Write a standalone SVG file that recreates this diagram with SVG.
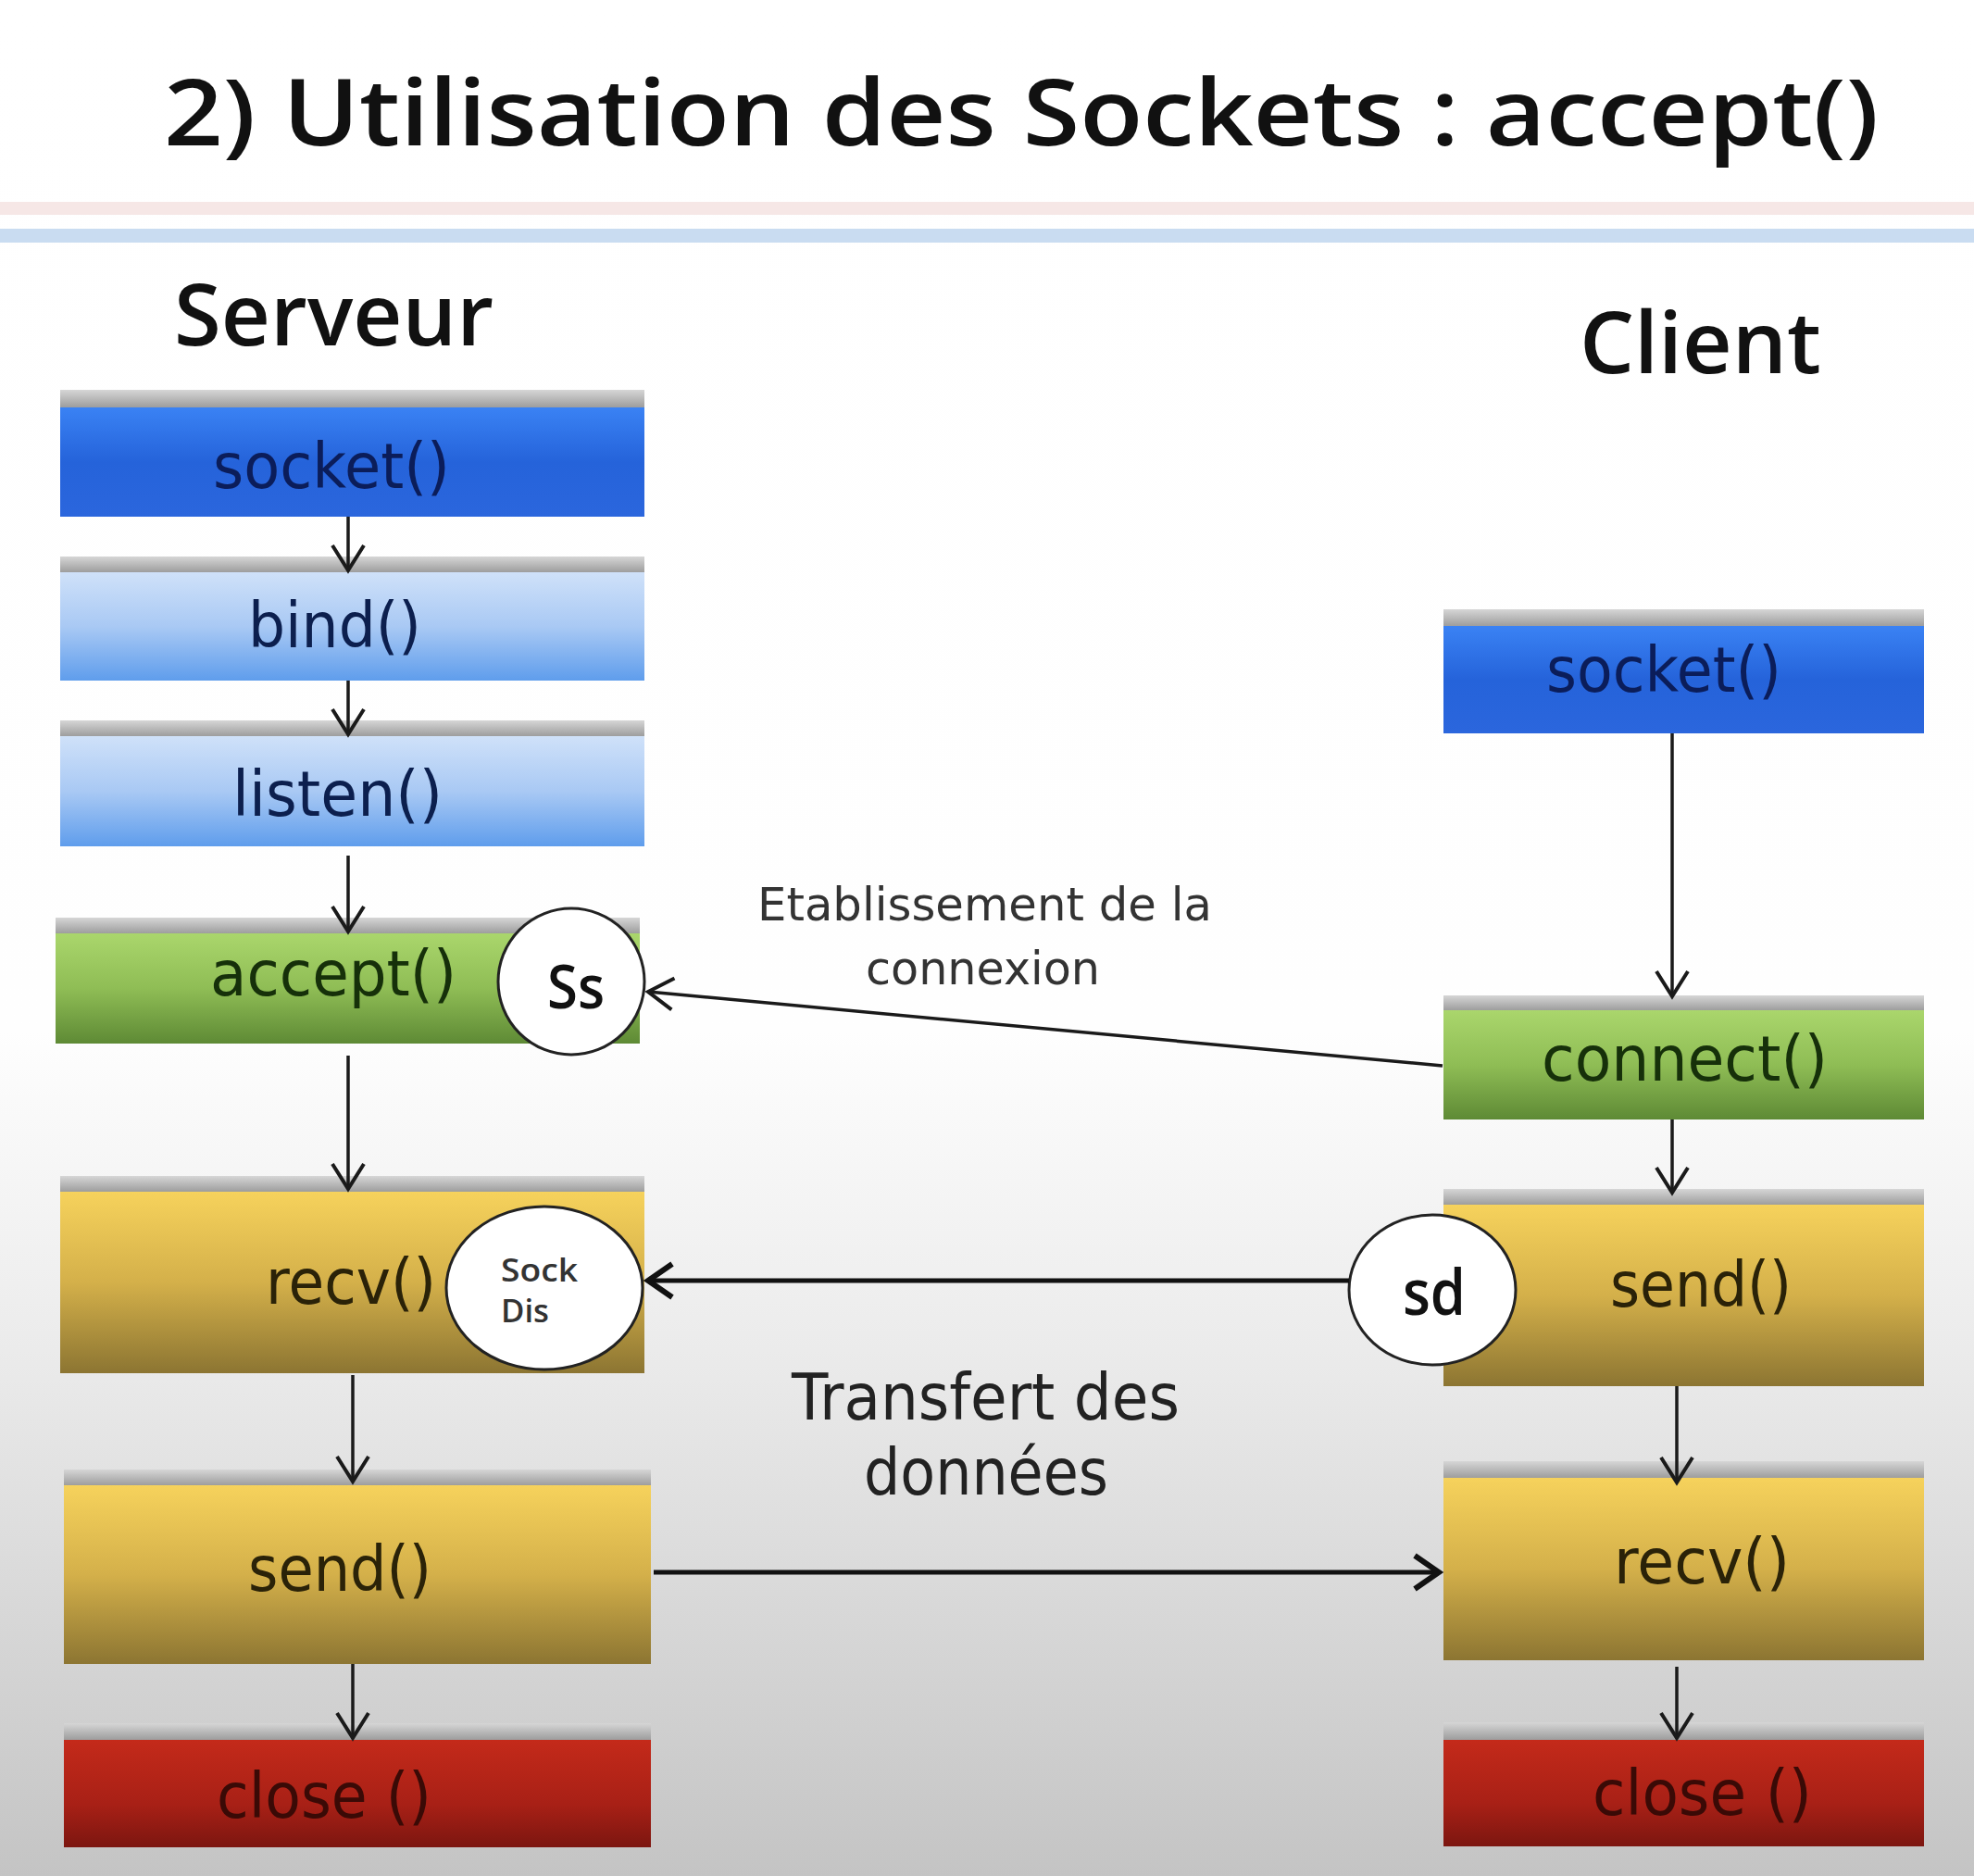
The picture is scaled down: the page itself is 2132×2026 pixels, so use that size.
<svg xmlns="http://www.w3.org/2000/svg" width="2132" height="2026" viewBox="0 0 2132 2026">
<defs>
<linearGradient id="bg" x1="0" y1="0" x2="0" y2="1">
<stop offset="0" stop-color="#ffffff"/>
<stop offset="0.55" stop-color="#fefefe"/>
<stop offset="0.72" stop-color="#ebebeb"/>
<stop offset="1" stop-color="#c4c4c4"/>
</linearGradient>
<linearGradient id="band" x1="0" y1="0" x2="0" y2="1">
<stop offset="0" stop-color="#d6d6d6"/>
<stop offset="1" stop-color="#9a9a9a"/>
</linearGradient>
<linearGradient id="gBlue" x1="0" y1="0" x2="0" y2="1">
<stop offset="0" stop-color="#3a82f4"/>
<stop offset="0.5" stop-color="#2563da"/>
<stop offset="1" stop-color="#2b66dd"/>
</linearGradient>
<linearGradient id="gLight" x1="0" y1="0" x2="0" y2="1">
<stop offset="0" stop-color="#cfe1f9"/>
<stop offset="0.5" stop-color="#a9c9f4"/>
<stop offset="1" stop-color="#5f9dec"/>
</linearGradient>
<linearGradient id="gGreen" x1="0" y1="0" x2="0" y2="1">
<stop offset="0" stop-color="#aad66c"/>
<stop offset="0.5" stop-color="#8fbd55"/>
<stop offset="1" stop-color="#5e8a35"/>
</linearGradient>
<linearGradient id="gGold" x1="0" y1="0" x2="0" y2="1">
<stop offset="0" stop-color="#f6d25c"/>
<stop offset="0.5" stop-color="#d4b04a"/>
<stop offset="1" stop-color="#8c7532"/>
</linearGradient>
<linearGradient id="gRed" x1="0" y1="0" x2="0" y2="1">
<stop offset="0" stop-color="#c42a1a"/>
<stop offset="0.6" stop-color="#a82016"/>
<stop offset="1" stop-color="#7c1610"/>
</linearGradient>
<marker id="arr" markerUnits="userSpaceOnUse" orient="auto" overflow="visible" markerWidth="1" markerHeight="1" refX="0" refY="0">
<path d="M-27,-17 L0,0 L-27,17" fill="none" stroke="#1a1a1a" stroke-width="4"/>
</marker>
<marker id="arrB" markerUnits="userSpaceOnUse" orient="auto" overflow="visible" markerWidth="1" markerHeight="1" refX="0" refY="0">
<path d="M-26,-18 L0,0 L-26,18" fill="none" stroke="#111" stroke-width="6"/>
</marker>
</defs>
<style>
.t{font-family:"DejaVu Sans","Liberation Sans",sans-serif}
.h{font-family:"Open Sans","DejaVu Sans",sans-serif;font-weight:600}
.box{font-family:"DejaVu Sans","Liberation Sans",sans-serif;font-size:68px}
.c{fill:#ffffff;stroke:#222;stroke-width:3}
.ln{fill:none;stroke:#1a1a1a;stroke-width:3.5}
.lnB{fill:none;stroke:#111;stroke-width:5}
</style>
<rect width="2132" height="2026" fill="url(#bg)"/>
<rect x="0" y="218" width="2132" height="14" fill="#f6e7e6"/>
<rect x="0" y="247" width="2132" height="15" fill="#c9dcf1"/>

<g id="title">
<text class="h" x="177" y="157" font-size="100" fill="#111" textLength="1852" lengthAdjust="spacingAndGlyphs">2) Utilisation des Sockets : accept()</text>
</g>
<g id="serveur-label"><text class="h" x="188" y="373" font-size="92" fill="#111" textLength="345" lengthAdjust="spacingAndGlyphs">Serveur</text></g>
<g id="client-label"><text class="h" x="1706" y="403" font-size="92" fill="#111" textLength="261" lengthAdjust="spacingAndGlyphs">Client</text></g>

<g id="srv-socket">
<rect x="65" y="421" width="631" height="20" fill="url(#band)"/>
<rect x="65" y="440" width="631" height="118" fill="url(#gBlue)"/>
<text class="box" x="230" y="527" fill="#0b1d5a" textLength="256" lengthAdjust="spacingAndGlyphs">socket()</text>
</g>
<g id="srv-bind">
<rect x="65" y="601" width="631" height="18" fill="url(#band)"/>
<rect x="65" y="618" width="631" height="117" fill="url(#gLight)"/>
<text class="box" x="268" y="699" fill="#0c1f4e" textLength="187" lengthAdjust="spacingAndGlyphs">bind()</text>
</g>
<g id="srv-listen">
<rect x="65" y="778" width="631" height="18" fill="url(#band)"/>
<rect x="65" y="795" width="631" height="119" fill="url(#gLight)"/>
<text class="box" x="251" y="881" fill="#0c1f4e" textLength="227" lengthAdjust="spacingAndGlyphs">listen()</text>
</g>
<g id="srv-accept">
<rect x="60" y="991" width="631" height="18" fill="url(#band)"/>
<rect x="60" y="1008" width="631" height="119" fill="url(#gGreen)"/>
<text class="box" x="227" y="1075" fill="#16300a" textLength="266" lengthAdjust="spacingAndGlyphs">accept()</text>
</g>
<g id="srv-ss">
<circle class="c" cx="617" cy="1060" r="79"/>
<text class="h" x="591" y="1089" font-size="66" fill="#111" textLength="62" lengthAdjust="spacingAndGlyphs">Ss</text>
</g>
<g id="srv-recv">
<rect x="65" y="1270" width="631" height="18" fill="url(#band)"/>
<rect x="65" y="1287" width="631" height="196" fill="url(#gGold)"/>
<text class="box" x="287" y="1408" fill="#2a2208" textLength="184" lengthAdjust="spacingAndGlyphs">recv()</text>
</g>
<g id="srv-sockdis">
<ellipse class="c" cx="588" cy="1391" rx="106" ry="88"/>
<text class="h" x="541" y="1384" font-size="34" fill="#333" textLength="83" lengthAdjust="spacingAndGlyphs">Sock</text>
<text class="h" x="541" y="1428" font-size="34" fill="#333" textLength="52" lengthAdjust="spacingAndGlyphs">Dis</text>
</g>
<g id="srv-send">
<rect x="69" y="1587" width="634" height="18" fill="url(#band)"/>
<rect x="69" y="1604" width="634" height="193" fill="url(#gGold)"/>
<text class="box" x="268" y="1718" fill="#2a2208" textLength="198" lengthAdjust="spacingAndGlyphs">send()</text>
</g>
<g id="srv-close">
<rect x="69" y="1861" width="634" height="19" fill="url(#band)"/>
<rect x="69" y="1879" width="634" height="116" fill="url(#gRed)"/>
<text class="box" x="234" y="1963" fill="#3a0a06" textLength="232" lengthAdjust="spacingAndGlyphs">close ()</text>
</g>

<g id="cli-socket">
<rect x="1559" y="658" width="519" height="19" fill="url(#band)"/>
<rect x="1559" y="676" width="519" height="116" fill="url(#gBlue)"/>
<text class="box" x="1670" y="747" fill="#0b1d5a" textLength="254" lengthAdjust="spacingAndGlyphs">socket()</text>
</g>
<g id="cli-connect">
<rect x="1559" y="1075" width="519" height="17" fill="url(#band)"/>
<rect x="1559" y="1091" width="519" height="118" fill="url(#gGreen)"/>
<text class="box" x="1665" y="1167" fill="#16300a" textLength="309" lengthAdjust="spacingAndGlyphs">connect()</text>
</g>
<g id="cli-send">
<rect x="1559" y="1284" width="519" height="18" fill="url(#band)"/>
<rect x="1559" y="1301" width="519" height="196" fill="url(#gGold)"/>
<text class="box" x="1739" y="1411" fill="#2a2208" textLength="196" lengthAdjust="spacingAndGlyphs">send()</text>
</g>
<g id="cli-sd">
<ellipse class="c" cx="1547" cy="1393" rx="90" ry="81"/>
<text class="h" x="1515" y="1420" font-size="68" fill="#111" textLength="68" lengthAdjust="spacingAndGlyphs">sd</text>
</g>
<g id="cli-recv">
<rect x="1559" y="1578" width="519" height="19" fill="url(#band)"/>
<rect x="1559" y="1596" width="519" height="197" fill="url(#gGold)"/>
<text class="box" x="1743" y="1710" fill="#2a2208" textLength="190" lengthAdjust="spacingAndGlyphs">recv()</text>
</g>
<g id="cli-close">
<rect x="1559" y="1860" width="519" height="20" fill="url(#band)"/>
<rect x="1559" y="1879" width="519" height="115" fill="url(#gRed)"/>
<text class="box" x="1720" y="1960" fill="#3a0a06" textLength="237" lengthAdjust="spacingAndGlyphs">close ()</text>
</g>

<g id="labels">
<text class="t" x="818" y="994" font-size="50" fill="#333" textLength="491" lengthAdjust="spacingAndGlyphs">Etablissement de la</text>
<text class="t" x="935" y="1063" font-size="50" fill="#333" textLength="253" lengthAdjust="spacingAndGlyphs">connexion</text>
<text class="t" x="855" y="1533" font-size="70" fill="#222" textLength="419" lengthAdjust="spacingAndGlyphs">Transfert des</text>
<text class="t" x="933" y="1614" font-size="70" fill="#222" textLength="264" lengthAdjust="spacingAndGlyphs">données</text>
</g>

<g id="connectors">
<line class="ln" x1="376" y1="558" x2="376" y2="616" marker-end="url(#arr)"/>
<line class="ln" x1="376" y1="735" x2="376" y2="793" marker-end="url(#arr)"/>
<line class="ln" x1="376" y1="924" x2="376" y2="1006" marker-end="url(#arr)"/>
<line class="ln" x1="376" y1="1140" x2="376" y2="1284" marker-end="url(#arr)"/>
<line class="ln" x1="381" y1="1485" x2="381" y2="1600" marker-end="url(#arr)"/>
<line class="ln" x1="381" y1="1797" x2="381" y2="1877" marker-end="url(#arr)"/>
<line class="ln" x1="1806" y1="792" x2="1806" y2="1076" marker-end="url(#arr)"/>
<line class="ln" x1="1806" y1="1209" x2="1806" y2="1288" marker-end="url(#arr)"/>
<line class="ln" x1="1811" y1="1497" x2="1811" y2="1601" marker-end="url(#arr)"/>
<line class="ln" x1="1811" y1="1800" x2="1811" y2="1877" marker-end="url(#arr)"/>
<line class="ln" x1="1558" y1="1151" x2="700" y2="1071" marker-end="url(#arr)"/>
<line class="lnB" x1="1457" y1="1383" x2="700" y2="1383" marker-end="url(#arrB)"/>
<line class="lnB" x1="706" y1="1698" x2="1554" y2="1698" marker-end="url(#arrB)"/>
</g>
</svg>
